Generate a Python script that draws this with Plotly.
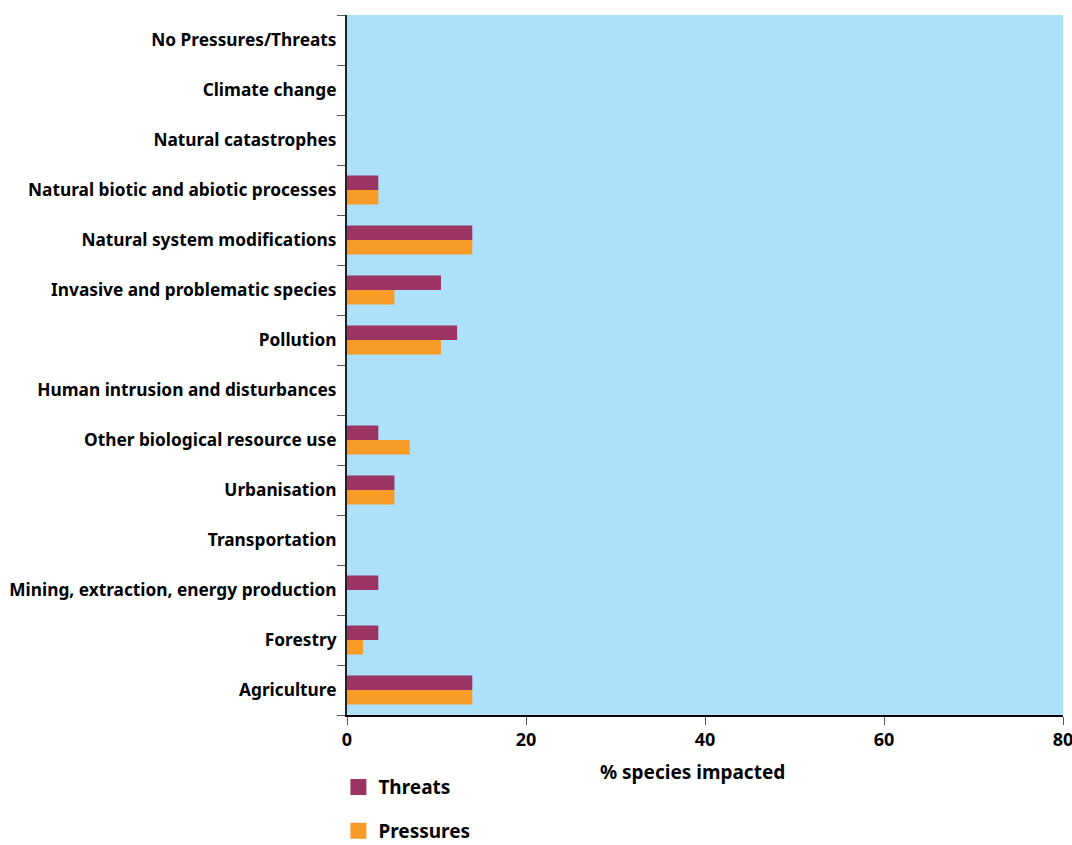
import plotly.graph_objects as go

categories = [
    "Agriculture",
    "Forestry",
    "Mining, extraction, energy production",
    "Transportation",
    "Urbanisation",
    "Other biological resource use",
    "Human intrusion and disturbances",
    "Pollution",
    "Invasive and problematic species",
    "Natural system modifications",
    "Natural biotic and abiotic processes",
    "Natural catastrophes",
    "Climate change",
    "No Pressures/Threats",
]
threats = [14.0, 3.5, 3.5, 0, 5.3, 3.5, 0, 12.3, 10.5, 14.0, 3.5, 0, 0, 0]
pressures = [14.0, 1.8, 0, 0, 5.3, 7.0, 0, 10.5, 5.3, 14.0, 3.5, 0, 0, 0]
x_ticks = [0, 20, 40, 60, 80]
x_title = "% species impacted"

C_THREAT = "#9B3463"
C_PRESS = "#F89B27"
FONT = "Noto Sans"

fig = go.Figure()
fig.add_trace(go.Bar(y=categories, x=pressures, orientation="h", name="Pressures",
                     marker=dict(color=C_PRESS, line=dict(width=0)), showlegend=False))
fig.add_trace(go.Bar(y=categories, x=threats, orientation="h", name="Threats",
                     marker=dict(color=C_THREAT, line=dict(width=0)), showlegend=False))
# legend entries
fig.add_trace(go.Scatter(x=[None], y=[None], mode="markers", name="Threats", legendgroup="t",
                         marker=dict(symbol="square", size=20, color=C_THREAT)))
fig.add_trace(go.Scatter(x=[None], y=[None], mode="markers", name="Pressures", legendgroup="p",
                         marker=dict(symbol="square", size=20, color=C_PRESS)))

fig.update_layout(
    width=1072, height=845,
    margin=dict(l=347, r=9, t=15, b=130, autoexpand=False),
    barmode="group", bargap=0.42, bargroupgap=0,
    plot_bgcolor="#ADE1FB", paper_bgcolor="white",
    font=dict(family=FONT, size=17.3, color="black", weight="bold"),
    legend=dict(x=-0.012, y=0.091, xanchor="left", yanchor="top", yref="container",
                font=dict(size=19, family=FONT, weight="bold"),
                tracegroupgap=16, bgcolor="rgba(0,0,0,0)"),
    annotations=[dict(text=x_title, xref="paper", yref="paper", x=0.482, y=-0.0814,
                      xanchor="center", yanchor="middle", showarrow=False,
                      font=dict(size=19, family=FONT, weight="bold", color="black"))],
)
fig.update_xaxes(range=[0, 80], tickvals=x_ticks, ticks="outside", ticklen=8, tickcolor="#555",
                 showline=True, linecolor="black", linewidth=1.5, showgrid=False, zeroline=False,
                 ticklabeloverflow="allow", automargin=False,
                 tickfont=dict(size=18, family=FONT, weight="bold"))
fig.update_yaxes(type="category", categoryorder="array", categoryarray=categories,
                 range=[-0.5, len(categories) - 0.5], automargin=False,
                 ticks="outside", tickson="boundaries", ticklen=8, tickcolor="#555",
                 showline=True, linecolor="#222", linewidth=2, showgrid=False,
                 ticklabelstandoff=5, ticklabeloverflow="allow",
                 tickfont=dict(size=17.3, family=FONT, weight="bold"))

fig.write_html("out.html", config={"displayModeBar": False},
               post_script="document.body.style.margin='0';document.body.style.overflow='hidden';")
